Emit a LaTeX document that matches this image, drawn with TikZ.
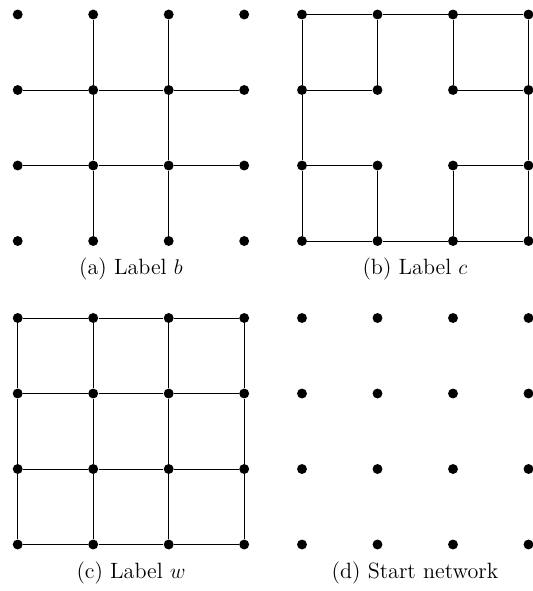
\documentclass[tikz,border=0pt]{standalone}
\begin{document}
\begin{tikzpicture}[x=0.5653pt,y=-0.5653pt,
  dot/.style={circle,fill=black,inner sep=0pt,minimum size=5.6pt},
  edge/.style={draw=black,line width=0.45pt},
  captext/.style={anchor=base,inner sep=0pt,font=\fontsize{12.5}{15}\selectfont}]
\useasboundingbox (0,0) rectangle (533,591);
% grid nodes: panel p, column i, row j
\foreach \p/\ox/\oy in {a/17.7/14.5, b/302/14.5, c/17.7/318, d/302/318}{
  \foreach \i in {0,1,2,3}{
    \foreach \j in {0,1,2,3}{
      \node[dot] (\p\i\j) at ({\ox+75.5*\i},{\oy+75.5*\j}) {};
    }
  }
}
% (a) Label b
\foreach \i in {1,2}{
  \draw[edge] (a\i0) -- (a\i1) -- (a\i2) -- (a\i3);
  \draw[edge] (a0\i) -- (a1\i) -- (a2\i) -- (a3\i);
}
% (b) Label c
\draw[edge] (b00) -- (b10) -- (b20) -- (b30);
\draw[edge] (b03) -- (b13) -- (b23) -- (b33);
\draw[edge] (b00) -- (b01) -- (b02) -- (b03);
\draw[edge] (b30) -- (b31) -- (b32) -- (b33);
\draw[edge] (b01) -- (b11);
\draw[edge] (b21) -- (b31);
\draw[edge] (b02) -- (b12);
\draw[edge] (b22) -- (b32);
\draw[edge] (b10) -- (b11);
\draw[edge] (b20) -- (b21);
\draw[edge] (b12) -- (b13);
\draw[edge] (b22) -- (b23);
% (c) Label w
\foreach \i in {0,1,2,3}{
  \draw[edge] (c\i0) -- (c\i1) -- (c\i2) -- (c\i3);
  \draw[edge] (c0\i) -- (c1\i) -- (c2\i) -- (c3\i);
}
% captions
\node[captext] (capa) at (131,274) {(a) Label $b$};
\node[captext] (capb) at (415,274) {(b) Label $c$};
\node[captext] (capc) at (131,578.5) {(c) Label $w$};
\node[captext] (capd) at (415,578.5) {(d) Start network};
\end{tikzpicture}
\end{document}
